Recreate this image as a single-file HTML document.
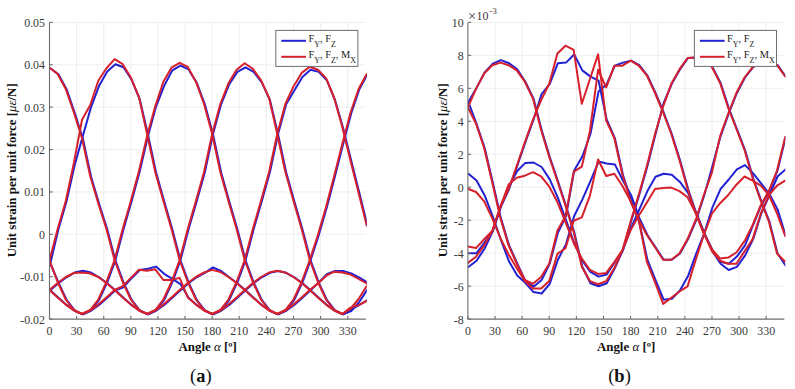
<!DOCTYPE html>
<html><head><meta charset="utf-8"><style>html,body{margin:0;padding:0;background:#fff;}
svg{display:block;}
text{font-family:"Liberation Serif",serif;fill:#333;}
.t{font-size:11.9px;fill:#3a3a3a;}
.lb{font-size:12.9px;font-weight:bold;fill:#111;}
.lg{font-size:10.4px;fill:#222;}
.sb{font-size:8px;}
.cap{font-size:18.5px;fill:#111;}
</style></head><body>
<svg width="795" height="389" viewBox="0 0 795 389">
<rect width="795" height="389" fill="#fff"/>
<defs><clipPath id="ca"><rect x="49.5" y="19.4" width="317.3" height="302.70000000000005"/></clipPath><clipPath id="cb"><rect x="467.9" y="19.4" width="317.4" height="302.70000000000005"/></clipPath></defs>
<line x1="76.61" y1="22.4" x2="76.61" y2="319.1" stroke="#eeeeee" stroke-width="1"/>
<line x1="103.72" y1="22.4" x2="103.72" y2="319.1" stroke="#eeeeee" stroke-width="1"/>
<line x1="130.83" y1="22.4" x2="130.83" y2="319.1" stroke="#eeeeee" stroke-width="1"/>
<line x1="157.95" y1="22.4" x2="157.95" y2="319.1" stroke="#eeeeee" stroke-width="1"/>
<line x1="185.06" y1="22.4" x2="185.06" y2="319.1" stroke="#eeeeee" stroke-width="1"/>
<line x1="212.17" y1="22.4" x2="212.17" y2="319.1" stroke="#eeeeee" stroke-width="1"/>
<line x1="239.28" y1="22.4" x2="239.28" y2="319.1" stroke="#eeeeee" stroke-width="1"/>
<line x1="266.39" y1="22.4" x2="266.39" y2="319.1" stroke="#eeeeee" stroke-width="1"/>
<line x1="293.50" y1="22.4" x2="293.50" y2="319.1" stroke="#eeeeee" stroke-width="1"/>
<line x1="320.61" y1="22.4" x2="320.61" y2="319.1" stroke="#eeeeee" stroke-width="1"/>
<line x1="347.73" y1="22.4" x2="347.73" y2="319.1" stroke="#eeeeee" stroke-width="1"/>
<line x1="49.5" y1="22.40" x2="365.8" y2="22.40" stroke="#eeeeee" stroke-width="1"/>
<line x1="49.5" y1="64.79" x2="365.8" y2="64.79" stroke="#eeeeee" stroke-width="1"/>
<line x1="49.5" y1="107.17" x2="365.8" y2="107.17" stroke="#eeeeee" stroke-width="1"/>
<line x1="49.5" y1="149.56" x2="365.8" y2="149.56" stroke="#eeeeee" stroke-width="1"/>
<line x1="49.5" y1="191.94" x2="365.8" y2="191.94" stroke="#eeeeee" stroke-width="1"/>
<line x1="49.5" y1="234.33" x2="365.8" y2="234.33" stroke="#eeeeee" stroke-width="1"/>
<line x1="49.5" y1="276.71" x2="365.8" y2="276.71" stroke="#eeeeee" stroke-width="1"/>
<line x1="495.02" y1="22.4" x2="495.02" y2="319.1" stroke="#eeeeee" stroke-width="1"/>
<line x1="522.14" y1="22.4" x2="522.14" y2="319.1" stroke="#eeeeee" stroke-width="1"/>
<line x1="549.26" y1="22.4" x2="549.26" y2="319.1" stroke="#eeeeee" stroke-width="1"/>
<line x1="576.38" y1="22.4" x2="576.38" y2="319.1" stroke="#eeeeee" stroke-width="1"/>
<line x1="603.50" y1="22.4" x2="603.50" y2="319.1" stroke="#eeeeee" stroke-width="1"/>
<line x1="630.62" y1="22.4" x2="630.62" y2="319.1" stroke="#eeeeee" stroke-width="1"/>
<line x1="657.74" y1="22.4" x2="657.74" y2="319.1" stroke="#eeeeee" stroke-width="1"/>
<line x1="684.86" y1="22.4" x2="684.86" y2="319.1" stroke="#eeeeee" stroke-width="1"/>
<line x1="711.98" y1="22.4" x2="711.98" y2="319.1" stroke="#eeeeee" stroke-width="1"/>
<line x1="739.10" y1="22.4" x2="739.10" y2="319.1" stroke="#eeeeee" stroke-width="1"/>
<line x1="766.22" y1="22.4" x2="766.22" y2="319.1" stroke="#eeeeee" stroke-width="1"/>
<line x1="467.9" y1="22.40" x2="784.3" y2="22.40" stroke="#eeeeee" stroke-width="1"/>
<line x1="467.9" y1="55.37" x2="784.3" y2="55.37" stroke="#eeeeee" stroke-width="1"/>
<line x1="467.9" y1="88.33" x2="784.3" y2="88.33" stroke="#eeeeee" stroke-width="1"/>
<line x1="467.9" y1="121.30" x2="784.3" y2="121.30" stroke="#eeeeee" stroke-width="1"/>
<line x1="467.9" y1="154.27" x2="784.3" y2="154.27" stroke="#eeeeee" stroke-width="1"/>
<line x1="467.9" y1="187.23" x2="784.3" y2="187.23" stroke="#eeeeee" stroke-width="1"/>
<line x1="467.9" y1="220.20" x2="784.3" y2="220.20" stroke="#eeeeee" stroke-width="1"/>
<line x1="467.9" y1="253.17" x2="784.3" y2="253.17" stroke="#eeeeee" stroke-width="1"/>
<line x1="467.9" y1="286.13" x2="784.3" y2="286.13" stroke="#eeeeee" stroke-width="1"/>
<polyline points="50.30,68.30 58.43,74.20 66.57,89.20 74.70,112.80 82.83,138.50 90.97,176.30 99.10,203.80 107.23,229.30 115.37,260.30 123.50,282.30 131.63,299.80 139.77,310.30 147.90,314.30 156.03,310.80 164.17,304.90 172.30,297.70 180.43,290.30 188.57,283.30 196.70,277.30 204.84,272.80 212.97,267.40 221.10,271.00 229.24,277.30 237.37,283.30 245.50,290.30 253.64,297.70 261.77,304.90 269.90,310.80 278.04,314.30 286.17,310.30 294.30,299.80 302.44,282.30 310.57,260.30 318.70,235.30 326.84,207.30 334.97,176.30 343.10,144.30 351.24,113.30 359.37,89.30 367.50,74.30" fill="none" stroke="#2222d2" stroke-width="2.0" stroke-linejoin="round" stroke-linecap="round" clip-path="url(#ca)"/>
<polyline points="50.30,263.50 58.43,229.30 66.57,201.30 74.70,165.00 82.83,136.10 90.97,107.30 99.10,85.80 107.23,71.40 115.37,64.20 123.50,67.30 131.63,79.60 139.77,99.50 147.90,134.30 156.03,172.30 164.17,201.30 172.30,229.30 180.43,260.30 188.57,282.30 196.70,299.80 204.84,310.30 212.97,314.30 221.10,310.80 229.24,304.90 237.37,297.70 245.50,290.30 253.64,283.30 261.77,277.30 269.90,272.80 278.04,271.00 286.17,272.80 294.30,277.30 302.44,283.30 310.57,290.30 318.70,297.70 326.84,304.90 334.97,310.80 343.10,314.30 351.24,311.00 359.37,301.80 367.50,289.30" fill="none" stroke="#2222d2" stroke-width="2.0" stroke-linejoin="round" stroke-linecap="round" clip-path="url(#ca)"/>
<polyline points="50.30,290.30 58.43,297.70 66.57,304.90 74.70,310.80 82.83,314.30 90.97,310.30 99.10,299.80 107.23,282.30 115.37,260.30 123.50,229.30 131.63,201.30 139.77,171.30 147.90,136.40 156.03,106.60 164.17,85.80 172.30,70.40 180.43,65.70 188.57,69.40 196.70,82.70 204.84,104.30 212.97,134.30 221.10,172.30 229.24,201.30 237.37,229.30 245.50,260.30 253.64,282.30 261.77,299.80 269.90,310.30 278.04,314.30 286.17,310.80 294.30,304.90 302.44,297.70 310.57,290.30 318.70,282.60 326.84,274.20 334.97,270.90 343.10,270.90 351.24,273.40 359.37,277.60 367.50,282.60" fill="none" stroke="#2222d2" stroke-width="2.0" stroke-linejoin="round" stroke-linecap="round" clip-path="url(#ca)"/>
<polyline points="50.30,290.30 58.43,283.30 66.57,277.30 74.70,272.50 82.83,270.70 90.97,272.50 99.10,277.30 107.23,283.30 115.37,290.30 123.50,297.70 131.63,304.90 139.77,310.80 147.90,314.30 156.03,310.30 164.17,299.80 172.30,282.30 180.43,260.30 188.57,229.30 196.70,201.30 204.84,172.30 212.97,134.30 221.10,104.30 229.24,84.30 237.37,71.90 245.50,67.30 253.64,71.90 261.77,82.30 269.90,99.90 278.04,134.30 286.17,172.30 294.30,201.30 302.44,229.30 310.57,260.30 318.70,282.30 326.84,299.80 334.97,310.30 343.10,314.30 351.24,309.00 359.37,305.00 367.50,300.00" fill="none" stroke="#2222d2" stroke-width="2.0" stroke-linejoin="round" stroke-linecap="round" clip-path="url(#ca)"/>
<polyline points="50.30,263.50 58.43,282.30 66.57,299.80 74.70,310.30 82.83,314.30 90.97,310.80 99.10,304.90 107.23,297.70 115.37,290.30 123.50,287.20 131.63,278.20 139.77,270.00 147.90,268.70 156.03,266.60 164.17,273.80 172.30,278.90 180.43,284.10 188.57,297.70 196.70,304.90 204.84,310.80 212.97,314.30 221.10,310.30 229.24,299.80 237.37,282.30 245.50,260.30 253.64,229.30 261.77,201.30 269.90,172.30 278.04,134.30 286.17,104.30 294.30,90.60 302.44,77.10 310.57,69.80 318.70,71.90 326.84,80.20 334.97,100.00 343.10,128.00 351.24,160.70 359.37,193.10 367.50,225.90" fill="none" stroke="#2222d2" stroke-width="2.0" stroke-linejoin="round" stroke-linecap="round" clip-path="url(#ca)"/>
<polyline points="49.50,67.70 57.63,73.90 65.77,88.90 73.90,112.50 82.03,138.20 90.17,176.00 98.30,203.50 106.43,229.00 114.57,260.00 122.70,282.00 130.83,299.50 138.97,310.00 147.10,314.00 155.23,310.50 163.37,304.60 171.50,297.40 179.63,290.00 187.77,283.00 195.90,277.00 204.04,272.50 212.17,269.90 220.30,272.00 228.44,277.00 236.57,283.00 244.70,290.00 252.84,297.40 260.97,304.60 269.10,310.50 277.24,314.00 285.37,310.00 293.50,299.50 301.64,282.00 309.77,260.00 317.90,235.00 326.04,207.00 334.17,176.00 342.30,144.00 350.44,113.00 358.57,89.00 366.70,74.00" fill="none" stroke="#d6202c" stroke-width="2.0" stroke-linejoin="round" stroke-linecap="round" clip-path="url(#ca)"/>
<polyline points="49.50,260.40 57.63,229.00 65.77,201.00 73.90,162.90 82.03,119.70 90.17,105.30 98.30,80.70 106.43,68.30 114.57,59.10 122.70,64.20 130.83,77.60 138.97,97.10 147.10,134.00 155.23,172.00 163.37,201.00 171.50,229.00 179.63,260.00 187.77,282.00 195.90,299.50 204.04,310.00 212.17,314.00 220.30,310.50 228.44,304.60 236.57,297.40 244.70,290.00 252.84,283.00 260.97,277.00 269.10,272.50 277.24,270.70 285.37,272.50 293.50,277.00 301.64,283.00 309.77,290.00 317.90,297.40 326.04,304.60 334.17,310.50 342.30,314.00 350.44,309.00 358.57,299.00 366.70,286.00" fill="none" stroke="#d6202c" stroke-width="2.0" stroke-linejoin="round" stroke-linecap="round" clip-path="url(#ca)"/>
<polyline points="49.50,290.00 57.63,297.40 65.77,304.60 73.90,310.50 82.03,314.00 90.17,310.00 98.30,299.50 106.43,282.00 114.57,260.00 122.70,229.00 130.83,201.00 138.97,171.00 147.10,136.10 155.23,106.30 163.37,81.70 171.50,67.70 179.63,62.80 187.77,66.90 195.90,81.70 204.04,104.00 212.17,134.00 220.30,172.00 228.44,201.00 236.57,229.00 244.70,260.00 252.84,282.00 260.97,299.50 269.10,310.00 277.24,314.00 285.37,310.50 293.50,304.60 301.64,297.40 309.77,290.00 317.90,283.40 326.04,275.90 334.17,271.70 342.30,272.50 350.44,274.50 358.57,279.00 366.70,283.40" fill="none" stroke="#d6202c" stroke-width="2.0" stroke-linejoin="round" stroke-linecap="round" clip-path="url(#ca)"/>
<polyline points="49.50,290.00 57.63,283.00 65.77,277.00 73.90,273.00 82.03,272.40 90.17,273.50 98.30,277.00 106.43,283.00 114.57,290.00 122.70,297.40 130.83,304.60 138.97,310.50 147.10,314.00 155.23,310.00 163.37,299.50 171.50,282.00 179.63,260.00 187.77,229.00 195.90,201.00 204.04,172.00 212.17,134.00 220.30,104.00 228.44,83.30 236.57,69.80 244.70,63.20 252.84,68.80 260.97,80.20 269.10,98.00 277.24,134.00 285.37,172.00 293.50,201.00 301.64,229.00 309.77,260.00 317.90,282.00 326.04,299.50 334.17,310.00 342.30,314.00 350.44,307.60 358.57,305.10 366.70,301.00" fill="none" stroke="#d6202c" stroke-width="2.0" stroke-linejoin="round" stroke-linecap="round" clip-path="url(#ca)"/>
<polyline points="49.50,260.40 57.63,282.00 65.77,299.50 73.90,310.00 82.03,314.00 90.17,310.50 98.30,304.60 106.43,297.40 114.57,290.00 122.70,286.10 130.83,277.90 138.97,269.70 147.10,270.70 155.23,269.30 163.37,280.00 171.50,280.00 179.63,277.90 187.77,297.40 195.90,304.60 204.04,310.50 212.17,314.00 220.30,310.00 228.44,299.50 236.57,282.00 244.70,260.00 252.84,229.00 260.97,201.00 269.10,172.00 277.24,134.00 285.37,104.00 293.50,86.40 301.64,72.90 309.77,66.70 317.90,69.80 326.04,78.10 334.17,98.00 342.30,127.00 350.44,160.40 358.57,192.80 366.70,225.60" fill="none" stroke="#d6202c" stroke-width="2.0" stroke-linejoin="round" stroke-linecap="round" clip-path="url(#ca)"/>
<polyline points="468.40,102.00 476.54,87.90 484.67,72.40 492.81,63.60 500.94,60.10 509.08,63.20 517.22,69.40 525.35,81.70 533.49,98.60 541.62,130.00 549.76,157.00 557.90,181.00 566.03,206.00 574.17,232.00 582.30,266.70 590.44,283.20 598.58,286.30 606.71,283.20 614.85,268.00 622.98,250.00 631.12,228.00 639.26,209.60 647.39,191.10 655.53,176.70 663.66,173.70 671.80,174.70 679.94,181.90 688.07,193.00 696.21,213.20 704.34,233.80 712.48,250.00 720.62,261.70 728.75,263.80 736.89,256.60 745.02,245.30 753.16,225.00 761.30,205.20 769.43,190.80 777.57,170.30 785.70,137.00" fill="none" stroke="#2222d2" stroke-width="2.0" stroke-linejoin="round" stroke-linecap="round" clip-path="url(#cb)"/>
<polyline points="468.40,253.20 476.54,253.20 484.67,242.30 492.81,231.00 500.94,206.50 509.08,189.00 517.22,166.00 525.35,142.30 533.49,119.70 541.62,94.00 549.76,83.80 557.90,63.20 566.03,62.60 574.17,54.50 582.30,70.40 590.44,76.60 598.58,80.70 606.71,119.70 614.85,138.20 622.98,175.00 631.12,200.00 639.26,222.00 647.39,259.70 655.53,280.20 663.66,299.70 671.80,298.70 679.94,290.50 688.07,276.10 696.21,253.50 704.34,233.00 712.48,207.30 720.62,188.80 728.75,179.50 736.89,169.30 745.02,165.10 753.16,173.40 761.30,183.60 769.43,194.00 777.57,209.40 785.70,236.00" fill="none" stroke="#2222d2" stroke-width="2.0" stroke-linejoin="round" stroke-linecap="round" clip-path="url(#cb)"/>
<polyline points="468.40,173.70 476.54,180.50 484.67,195.40 492.81,216.60 500.94,240.00 509.08,261.60 517.22,275.50 525.35,282.80 533.49,292.10 541.62,293.50 549.76,283.80 557.90,259.70 566.03,244.10 574.17,216.00 582.30,199.60 590.44,181.10 598.58,161.60 606.71,163.40 614.85,164.40 622.98,180.80 631.12,195.20 639.26,217.90 647.39,235.00 655.53,247.30 663.66,259.70 671.80,259.70 679.94,253.50 688.07,239.10 696.21,220.00 704.34,195.00 712.48,166.00 720.62,136.10 728.75,113.50 736.89,93.00 745.02,77.50 753.16,67.20 761.30,62.00 769.43,61.00 777.57,65.10 785.70,76.50" fill="none" stroke="#2222d2" stroke-width="2.0" stroke-linejoin="round" stroke-linecap="round" clip-path="url(#cb)"/>
<polyline points="468.40,267.00 476.54,260.80 484.67,248.50 492.81,231.00 500.94,206.50 509.08,186.00 517.22,171.00 525.35,162.90 533.49,162.50 541.62,167.00 549.76,179.40 557.90,197.90 566.03,220.00 574.17,243.00 582.30,260.60 590.44,271.90 598.58,276.60 606.71,274.50 614.85,262.00 622.98,250.00 631.12,221.40 639.26,194.70 647.39,166.00 655.53,134.00 663.66,103.00 671.80,83.80 679.94,69.40 688.07,58.00 696.21,57.40 704.34,59.00 712.48,67.30 720.62,83.00 728.75,108.00 736.89,129.00 745.02,150.00 753.16,178.00 761.30,201.00 769.43,221.70 777.57,253.50 785.70,265.80" fill="none" stroke="#2222d2" stroke-width="2.0" stroke-linejoin="round" stroke-linecap="round" clip-path="url(#cb)"/>
<polyline points="468.40,102.00 476.54,123.80 484.67,148.00 492.81,182.70 500.94,218.40 509.08,245.40 517.22,263.30 525.35,280.90 533.49,286.70 541.62,280.00 549.76,263.60 557.90,232.70 566.03,216.00 574.17,170.50 582.30,156.50 590.44,134.00 598.58,91.40 606.71,84.20 614.85,65.70 622.98,62.60 631.12,60.70 639.26,65.20 647.39,75.50 655.53,93.00 663.66,112.50 671.80,134.00 679.94,160.00 688.07,189.00 696.21,213.00 704.34,233.00 712.48,251.40 720.62,263.80 728.75,270.00 736.89,266.90 745.02,255.60 753.16,239.10 761.30,213.50 769.43,195.00 777.57,176.50 785.70,169.30" fill="none" stroke="#2222d2" stroke-width="2.0" stroke-linejoin="round" stroke-linecap="round" clip-path="url(#cb)"/>
<polyline points="467.90,107.30 476.04,88.90 484.17,73.50 492.31,65.20 500.44,62.60 508.58,65.20 516.72,70.40 524.85,81.70 532.99,98.60 541.12,130.00 549.26,157.00 557.40,181.00 565.53,206.00 573.67,232.00 581.80,266.70 589.94,281.10 598.08,284.20 606.21,281.10 614.35,268.00 622.48,250.00 630.62,230.00 638.76,215.80 646.89,202.40 655.03,189.10 663.16,188.00 671.30,187.60 679.44,191.10 687.57,197.30 695.71,213.00 703.84,233.80 711.98,249.40 720.12,258.60 728.25,257.60 736.39,252.50 744.52,241.20 752.66,225.00 760.80,205.20 768.93,190.80 777.07,170.30 785.20,137.00" fill="none" stroke="#d6202c" stroke-width="2.0" stroke-linejoin="round" stroke-linecap="round" clip-path="url(#cb)"/>
<polyline points="467.90,246.50 476.04,248.10 484.17,239.30 492.31,231.00 500.44,206.50 508.58,189.00 516.72,166.00 524.85,142.30 532.99,119.70 541.12,100.00 549.26,83.80 557.40,53.50 565.53,45.70 573.67,49.80 581.80,103.80 589.94,79.00 598.08,54.40 606.21,120.60 614.35,138.00 622.48,175.00 630.62,201.40 638.76,220.00 646.89,261.70 655.03,282.30 663.16,303.90 671.30,297.70 679.44,291.50 687.57,286.40 695.71,259.70 703.84,235.00 711.98,213.50 720.12,203.20 728.25,195.00 736.39,184.70 744.52,176.50 752.66,180.60 760.80,185.70 768.93,195.00 777.07,213.50 785.20,236.00" fill="none" stroke="#d6202c" stroke-width="2.0" stroke-linejoin="round" stroke-linecap="round" clip-path="url(#cb)"/>
<polyline points="467.90,188.70 476.04,192.00 484.17,201.40 492.31,218.40 500.44,238.20 508.58,254.40 516.72,268.00 524.85,280.90 532.99,288.60 541.12,288.60 549.26,280.90 557.40,253.90 565.53,248.20 573.67,220.70 581.80,217.40 589.94,195.60 598.08,159.50 606.21,176.00 614.35,173.70 622.48,186.00 630.62,201.40 638.76,220.00 646.89,235.00 655.03,247.30 663.16,259.70 671.30,259.70 679.44,253.50 687.57,239.10 695.71,220.00 703.84,195.00 711.98,172.30 720.12,136.10 728.25,113.50 736.39,93.00 744.52,77.50 752.66,67.20 760.80,62.00 768.93,61.00 777.07,65.10 785.20,76.50" fill="none" stroke="#d6202c" stroke-width="2.0" stroke-linejoin="round" stroke-linecap="round" clip-path="url(#cb)"/>
<polyline points="467.90,262.90 476.04,256.70 484.17,245.40 492.31,231.00 500.44,206.50 508.58,184.50 516.72,177.70 524.85,175.70 532.99,172.20 541.12,176.30 549.26,186.60 557.40,202.00 565.53,222.00 573.67,243.00 581.80,258.50 589.94,269.80 598.08,273.90 606.21,272.90 614.35,262.00 622.48,250.00 630.62,221.40 638.76,194.70 646.89,166.00 655.03,134.00 663.16,106.30 671.30,83.80 679.44,69.40 687.57,58.00 695.71,57.40 703.84,59.00 711.98,67.30 720.12,83.00 728.25,108.00 736.39,129.00 744.52,150.00 752.66,178.00 760.80,201.00 768.93,221.70 777.07,253.50 785.20,261.70" fill="none" stroke="#d6202c" stroke-width="2.0" stroke-linejoin="round" stroke-linecap="round" clip-path="url(#cb)"/>
<polyline points="467.90,107.30 476.04,123.80 484.17,148.00 492.31,182.70 500.44,218.40 508.58,245.40 516.72,263.60 524.85,280.00 532.99,283.80 541.12,277.00 549.26,263.60 557.40,230.80 565.53,216.00 573.67,171.90 581.80,166.70 589.94,131.00 598.08,69.80 606.21,87.30 614.35,65.70 622.48,65.70 630.62,60.60 638.76,65.70 646.89,75.50 655.03,93.00 663.16,112.50 671.30,134.00 679.44,160.00 687.57,189.00 695.71,213.00 703.84,233.00 711.98,251.40 720.12,260.70 728.25,263.80 736.39,263.80 744.52,251.40 752.66,239.10 760.80,213.50 768.93,195.00 777.07,185.70 785.20,180.60" fill="none" stroke="#d6202c" stroke-width="2.0" stroke-linejoin="round" stroke-linecap="round" clip-path="url(#cb)"/>
<path d="M49.5 22.4 V319.1 H365.8" fill="none" stroke="#6e6e6e" stroke-width="1.1"/>
<line x1="49.5" y1="22.40" x2="52.7" y2="22.40" stroke="#6e6e6e" stroke-width="1.1"/>
<text x="45.0" y="26.80" text-anchor="end" class="t">0.05</text>
<line x1="49.5" y1="64.79" x2="52.7" y2="64.79" stroke="#6e6e6e" stroke-width="1.1"/>
<text x="45.0" y="69.19" text-anchor="end" class="t">0.04</text>
<line x1="49.5" y1="107.17" x2="52.7" y2="107.17" stroke="#6e6e6e" stroke-width="1.1"/>
<text x="45.0" y="111.57" text-anchor="end" class="t">0.03</text>
<line x1="49.5" y1="149.56" x2="52.7" y2="149.56" stroke="#6e6e6e" stroke-width="1.1"/>
<text x="45.0" y="153.96" text-anchor="end" class="t">0.02</text>
<line x1="49.5" y1="191.94" x2="52.7" y2="191.94" stroke="#6e6e6e" stroke-width="1.1"/>
<text x="45.0" y="196.34" text-anchor="end" class="t">0.01</text>
<line x1="49.5" y1="234.33" x2="52.7" y2="234.33" stroke="#6e6e6e" stroke-width="1.1"/>
<text x="45.0" y="238.73" text-anchor="end" class="t">0</text>
<line x1="49.5" y1="276.71" x2="52.7" y2="276.71" stroke="#6e6e6e" stroke-width="1.1"/>
<text x="45.0" y="281.11" text-anchor="end" class="t">-0.01</text>
<line x1="49.5" y1="319.10" x2="52.7" y2="319.10" stroke="#6e6e6e" stroke-width="1.1"/>
<text x="45.0" y="323.50" text-anchor="end" class="t">-0.02</text>
<line x1="49.50" y1="319.1" x2="49.50" y2="315.90000000000003" stroke="#6e6e6e" stroke-width="1.1"/>
<text x="49.50" y="335" text-anchor="middle" class="t">0</text>
<line x1="76.61" y1="319.1" x2="76.61" y2="315.90000000000003" stroke="#6e6e6e" stroke-width="1.1"/>
<text x="76.61" y="335" text-anchor="middle" class="t">30</text>
<line x1="103.72" y1="319.1" x2="103.72" y2="315.90000000000003" stroke="#6e6e6e" stroke-width="1.1"/>
<text x="103.72" y="335" text-anchor="middle" class="t">60</text>
<line x1="130.83" y1="319.1" x2="130.83" y2="315.90000000000003" stroke="#6e6e6e" stroke-width="1.1"/>
<text x="130.83" y="335" text-anchor="middle" class="t">90</text>
<line x1="157.95" y1="319.1" x2="157.95" y2="315.90000000000003" stroke="#6e6e6e" stroke-width="1.1"/>
<text x="157.95" y="335" text-anchor="middle" class="t">120</text>
<line x1="185.06" y1="319.1" x2="185.06" y2="315.90000000000003" stroke="#6e6e6e" stroke-width="1.1"/>
<text x="185.06" y="335" text-anchor="middle" class="t">150</text>
<line x1="212.17" y1="319.1" x2="212.17" y2="315.90000000000003" stroke="#6e6e6e" stroke-width="1.1"/>
<text x="212.17" y="335" text-anchor="middle" class="t">180</text>
<line x1="239.28" y1="319.1" x2="239.28" y2="315.90000000000003" stroke="#6e6e6e" stroke-width="1.1"/>
<text x="239.28" y="335" text-anchor="middle" class="t">210</text>
<line x1="266.39" y1="319.1" x2="266.39" y2="315.90000000000003" stroke="#6e6e6e" stroke-width="1.1"/>
<text x="266.39" y="335" text-anchor="middle" class="t">240</text>
<line x1="293.50" y1="319.1" x2="293.50" y2="315.90000000000003" stroke="#6e6e6e" stroke-width="1.1"/>
<text x="293.50" y="335" text-anchor="middle" class="t">270</text>
<line x1="320.61" y1="319.1" x2="320.61" y2="315.90000000000003" stroke="#6e6e6e" stroke-width="1.1"/>
<text x="320.61" y="335" text-anchor="middle" class="t">300</text>
<line x1="347.73" y1="319.1" x2="347.73" y2="315.90000000000003" stroke="#6e6e6e" stroke-width="1.1"/>
<text x="347.73" y="335" text-anchor="middle" class="t">330</text>
<path d="M467.9 22.4 V319.1 H784.3" fill="none" stroke="#6e6e6e" stroke-width="1.1"/>
<line x1="467.9" y1="22.40" x2="471.09999999999997" y2="22.40" stroke="#6e6e6e" stroke-width="1.1"/>
<text x="463.6" y="26.80" text-anchor="end" class="t">10</text>
<line x1="467.9" y1="55.37" x2="471.09999999999997" y2="55.37" stroke="#6e6e6e" stroke-width="1.1"/>
<text x="463.6" y="59.77" text-anchor="end" class="t">8</text>
<line x1="467.9" y1="88.33" x2="471.09999999999997" y2="88.33" stroke="#6e6e6e" stroke-width="1.1"/>
<text x="463.6" y="92.73" text-anchor="end" class="t">6</text>
<line x1="467.9" y1="121.30" x2="471.09999999999997" y2="121.30" stroke="#6e6e6e" stroke-width="1.1"/>
<text x="463.6" y="125.70" text-anchor="end" class="t">4</text>
<line x1="467.9" y1="154.27" x2="471.09999999999997" y2="154.27" stroke="#6e6e6e" stroke-width="1.1"/>
<text x="463.6" y="158.67" text-anchor="end" class="t">2</text>
<line x1="467.9" y1="187.23" x2="471.09999999999997" y2="187.23" stroke="#6e6e6e" stroke-width="1.1"/>
<text x="463.6" y="191.63" text-anchor="end" class="t">0</text>
<line x1="467.9" y1="220.20" x2="471.09999999999997" y2="220.20" stroke="#6e6e6e" stroke-width="1.1"/>
<text x="463.6" y="224.60" text-anchor="end" class="t">-2</text>
<line x1="467.9" y1="253.17" x2="471.09999999999997" y2="253.17" stroke="#6e6e6e" stroke-width="1.1"/>
<text x="463.6" y="257.57" text-anchor="end" class="t">-4</text>
<line x1="467.9" y1="286.13" x2="471.09999999999997" y2="286.13" stroke="#6e6e6e" stroke-width="1.1"/>
<text x="463.6" y="290.53" text-anchor="end" class="t">-6</text>
<line x1="467.9" y1="319.10" x2="471.09999999999997" y2="319.10" stroke="#6e6e6e" stroke-width="1.1"/>
<text x="463.6" y="323.50" text-anchor="end" class="t">-8</text>
<line x1="467.90" y1="319.1" x2="467.90" y2="315.90000000000003" stroke="#6e6e6e" stroke-width="1.1"/>
<text x="467.90" y="335" text-anchor="middle" class="t">0</text>
<line x1="495.02" y1="319.1" x2="495.02" y2="315.90000000000003" stroke="#6e6e6e" stroke-width="1.1"/>
<text x="495.02" y="335" text-anchor="middle" class="t">30</text>
<line x1="522.14" y1="319.1" x2="522.14" y2="315.90000000000003" stroke="#6e6e6e" stroke-width="1.1"/>
<text x="522.14" y="335" text-anchor="middle" class="t">60</text>
<line x1="549.26" y1="319.1" x2="549.26" y2="315.90000000000003" stroke="#6e6e6e" stroke-width="1.1"/>
<text x="549.26" y="335" text-anchor="middle" class="t">90</text>
<line x1="576.38" y1="319.1" x2="576.38" y2="315.90000000000003" stroke="#6e6e6e" stroke-width="1.1"/>
<text x="576.38" y="335" text-anchor="middle" class="t">120</text>
<line x1="603.50" y1="319.1" x2="603.50" y2="315.90000000000003" stroke="#6e6e6e" stroke-width="1.1"/>
<text x="603.50" y="335" text-anchor="middle" class="t">150</text>
<line x1="630.62" y1="319.1" x2="630.62" y2="315.90000000000003" stroke="#6e6e6e" stroke-width="1.1"/>
<text x="630.62" y="335" text-anchor="middle" class="t">180</text>
<line x1="657.74" y1="319.1" x2="657.74" y2="315.90000000000003" stroke="#6e6e6e" stroke-width="1.1"/>
<text x="657.74" y="335" text-anchor="middle" class="t">210</text>
<line x1="684.86" y1="319.1" x2="684.86" y2="315.90000000000003" stroke="#6e6e6e" stroke-width="1.1"/>
<text x="684.86" y="335" text-anchor="middle" class="t">240</text>
<line x1="711.98" y1="319.1" x2="711.98" y2="315.90000000000003" stroke="#6e6e6e" stroke-width="1.1"/>
<text x="711.98" y="335" text-anchor="middle" class="t">270</text>
<line x1="739.10" y1="319.1" x2="739.10" y2="315.90000000000003" stroke="#6e6e6e" stroke-width="1.1"/>
<text x="739.10" y="335" text-anchor="middle" class="t">300</text>
<line x1="766.22" y1="319.1" x2="766.22" y2="315.90000000000003" stroke="#6e6e6e" stroke-width="1.1"/>
<text x="766.22" y="335" text-anchor="middle" class="t">330</text>
<rect x="275.8" y="30.4" width="82.1" height="36.0" fill="#fff" stroke="#6e6e6e" stroke-width="1"/>
<line x1="281.3" y1="40.8" x2="306" y2="40.8" stroke="#2222d2" stroke-width="2"/>
<line x1="281.3" y1="56.8" x2="306" y2="56.8" stroke="#d6202c" stroke-width="2"/>
<text x="308.4" y="41.9" class="lg">F<tspan class="sb" dy="5">Y</tspan><tspan dy="-5">, F</tspan><tspan class="sb" dy="5">Z</tspan></text>
<text x="308.4" y="58.2" class="lg">F<tspan class="sb" dy="5">Y</tspan><tspan dy="-5">, F</tspan><tspan class="sb" dy="5">Z</tspan><tspan dy="-5">, M</tspan><tspan class="sb" dy="5">X</tspan></text>
<rect x="694.4000000000001" y="30.4" width="82.1" height="36.0" fill="#fff" stroke="#6e6e6e" stroke-width="1"/>
<line x1="699.9000000000001" y1="40.8" x2="724.6" y2="40.8" stroke="#2222d2" stroke-width="2"/>
<line x1="699.9000000000001" y1="56.8" x2="724.6" y2="56.8" stroke="#d6202c" stroke-width="2"/>
<text x="727.0" y="41.9" class="lg">F<tspan class="sb" dy="5">Y</tspan><tspan dy="-5">, F</tspan><tspan class="sb" dy="5">Z</tspan></text>
<text x="727.0" y="58.2" class="lg">F<tspan class="sb" dy="5">Y</tspan><tspan dy="-5">, F</tspan><tspan class="sb" dy="5">Z</tspan><tspan dy="-5">, M</tspan><tspan class="sb" dy="5">X</tspan></text>
<text x="467.9" y="20.6" class="t" style="font-size:14.5px">×</text>
<text x="476.6" y="19.7" class="t">10</text>
<text x="489.6" y="14.3" class="t" style="font-size:8.6px">-3</text>
<text transform="translate(15.7,170.3) rotate(-90)" text-anchor="middle" class="lb">Unit strain per unit force [<tspan font-style="italic" font-weight="normal">με</tspan>/N]</text>
<text x="207.7" y="350.6" text-anchor="middle" class="lb">Angle <tspan font-style="italic" font-weight="normal">α</tspan> [º]</text>
<text transform="translate(446.70000000000005,170.3) rotate(-90)" text-anchor="middle" class="lb">Unit strain per unit force [<tspan font-style="italic" font-weight="normal">με</tspan>/N]</text>
<text x="626.1" y="350.6" text-anchor="middle" class="lb">Angle <tspan font-style="italic" font-weight="normal">α</tspan> [º]</text>
<text x="200.9" y="382" text-anchor="middle" class="cap">(<tspan font-weight="bold">a</tspan>)</text>
<text x="619.5" y="382" text-anchor="middle" class="cap">(<tspan font-weight="bold">b</tspan>)</text>
</svg>
</body></html>
